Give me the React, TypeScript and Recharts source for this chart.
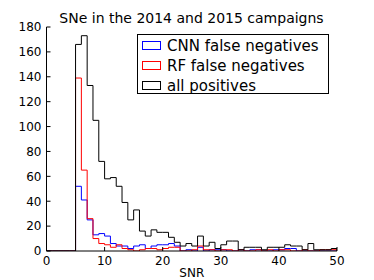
import { LineChart, Line, XAxis, YAxis, Legend } from 'recharts';

// histogram bin edges (SNR), one value per bin [k, k+1)
const binEdges = [
  0, 1, 2, 3, 4, 5, 6, 7, 8, 9, 10, 11, 12, 13, 14, 15, 16, 17, 18, 19, 20, 21, 22, 23, 24,
  25, 26, 27, 28, 29, 30, 31, 32, 33, 34, 35, 36, 37, 38, 39, 40, 41, 42, 43, 44, 45, 46, 47, 48, 49, 50,
];

const cnnFalseNeg = [
  0, 0, 0, 0, 0, 52, 41, 25, 13, 14, 12, 6, 4, 4, 2, 4, 5, 2, 4, 5,
  5, 6, 4, 0, 1, 0, 3, 0, 1, 1, 1, 0, 0, 1, 0, 1, 1, 0, 0, 1,
  1, 2, 2, 0, 0, 0, 0, 0, 0, 0,
];

const rfFalseNeg = [
  0, 0, 0, 0, 0, 139, 65, 26, 10, 6, 5, 3, 5, 2, 1, 0, 1, 2, 2, 1,
  2, 3, 3, 0, 0, 1, 4, 1, 1, 0, 1, 1, 0, 1, 0, 0, 1, 0, 1, 0,
  1, 1, 0, 0, 1, 0, 0, 1, 1, 1,
];

const allPositives = [
  0, 0, 0, 0, 0, 166, 173, 133, 105, 72, 58, 59, 52, 39, 25, 33, 16, 12, 17, 15,
  15, 11, 7, 4, 6, 4, 12, 4, 7, 2, 5, 8, 8, 1, 3, 3, 3, 1, 3, 3,
  3, 5, 4, 4, 1, 6, 1, 1, 1, 2,
];

const xTicks = [0, 10, 20, 30, 40, 50];
const yTicks = [0, 20, 40, 60, 80, 100, 120, 140, 160, 180];

const series = [
  { key: 'cnn', name: 'CNN false negatives', color: '#0000ff' },
  { key: 'rf', name: 'RF false negatives', color: '#ff0000' },
  { key: 'all', name: 'all positives', color: '#000000' },
];

const data = binEdges.map((edge, i) => ({
  snr: edge,
  cnn: cnnFalseNeg[i] ?? 0,
  rf: rfFalseNeg[i] ?? 0,
  all: allPositives[i] ?? 0,
}));

const FONT = '"DejaVu Sans", sans-serif';
const TICK = 4;

function BottomTick({ x, y, payload }: any) {
  return (
    <g>
      <line x1={x} y1={y} x2={x} y2={y - TICK} stroke="#000" />
      <text x={x} y={y + 14} textAnchor="middle" fontSize={12} fontFamily={FONT} fill="#000">
        {payload.value}
      </text>
    </g>
  );
}

function LeftTick({ x, y, payload }: any) {
  return (
    <g>
      <line x1={x} y1={y} x2={x + TICK} y2={y} stroke="#000" />
      <text x={x - 5} y={y} dy="0.36em" textAnchor="end" fontSize={12} fontFamily={FONT} fill="#000">
        {payload.value}
      </text>
    </g>
  );
}

function TopTick({ x, y }: any) {
  return <line x1={x} y1={y} x2={x} y2={y + TICK} stroke="#000" />;
}

function RightTick({ x, y }: any) {
  return <line x1={x} y1={y} x2={x - TICK} y2={y} stroke="#000" />;
}

function LegendBox() {
  return (
    <svg width={193} height={62} style={{ display: 'block' }}>
      <rect x={0.5} y={0.5} width={191} height={59} fill="#fff" stroke="#000" />
      {series.map((s, i) => (
        <g key={s.key}>
          <rect x={5.5} y={7.5 + i * 20} width={18} height={8} fill="none" stroke={s.color} />
          <text x={30} y={16.5 + i * 20} fontSize={15} fontFamily={FONT} fill="#000">
            {s.name}
          </text>
        </g>
      ))}
    </svg>
  );
}

export default function App() {
  return (
    <div style={{ position: 'absolute', left: 0, top: 0, width: 374, height: 280, background: '#fff' }}>
      <div
        style={{
          position: 'absolute', left: 46, top: 10, width: 291, textAlign: 'center',
          fontFamily: FONT, fontSize: 14, lineHeight: '17px', color: '#000',
        }}
      >
        SNe in the 2014 and 2015 campaigns
      </div>
      <LineChart width={374} height={280} data={data} margin={{ top: 27, right: 37, bottom: 0, left: 0 }}>
        <XAxis
          dataKey="snr"
          type="number"
          domain={[0, 50]}
          ticks={xTicks}
          interval={0}
          height={29}
          tickSize={0}
          tickMargin={0}
          tick={<BottomTick />}
          axisLine={{ stroke: '#000' }}
          tickLine={false}
          allowDataOverflow
          label={{ value: 'SNR', position: 'insideBottom', offset: 3, fill: '#000', fontSize: 12, fontFamily: FONT }}
        />
        <XAxis
          xAxisId="top"
          orientation="top"
          dataKey="snr"
          type="number"
          domain={[0, 50]}
          ticks={xTicks}
          interval={0}
          height={0}
          tickSize={0}
          tickMargin={0}
          tick={<TopTick />}
          axisLine={{ stroke: '#000' }}
          tickLine={false}
          allowDataOverflow
        />
        <YAxis
          type="number"
          domain={[0, 180]}
          ticks={yTicks}
          interval={0}
          width={46.5}
          tickSize={0}
          tickMargin={0}
          tick={<LeftTick />}
          axisLine={{ stroke: '#000' }}
          tickLine={false}
          allowDataOverflow
        />
        <YAxis
          yAxisId="right"
          orientation="right"
          type="number"
          domain={[0, 180]}
          ticks={yTicks}
          interval={0}
          width={0}
          tickSize={0}
          tickMargin={0}
          tick={<RightTick />}
          axisLine={{ stroke: '#000' }}
          tickLine={false}
          allowDataOverflow
        />
        <Legend
          layout="vertical"
          verticalAlign="middle"
          align="center"
          content={<LegendBox />}
          wrapperStyle={{ position: 'absolute', left: 137, top: 34, width: 193, height: 62 }}
        />
        {series.map((s) => (
          <Line
            key={s.key}
            type="stepAfter"
            dataKey={s.key}
            name={s.name}
            stroke={s.color}
            strokeWidth={1}
            dot={false}
            activeDot={false}
            isAnimationActive={false}
          />
        ))}
      </LineChart>
    </div>
  );
}
